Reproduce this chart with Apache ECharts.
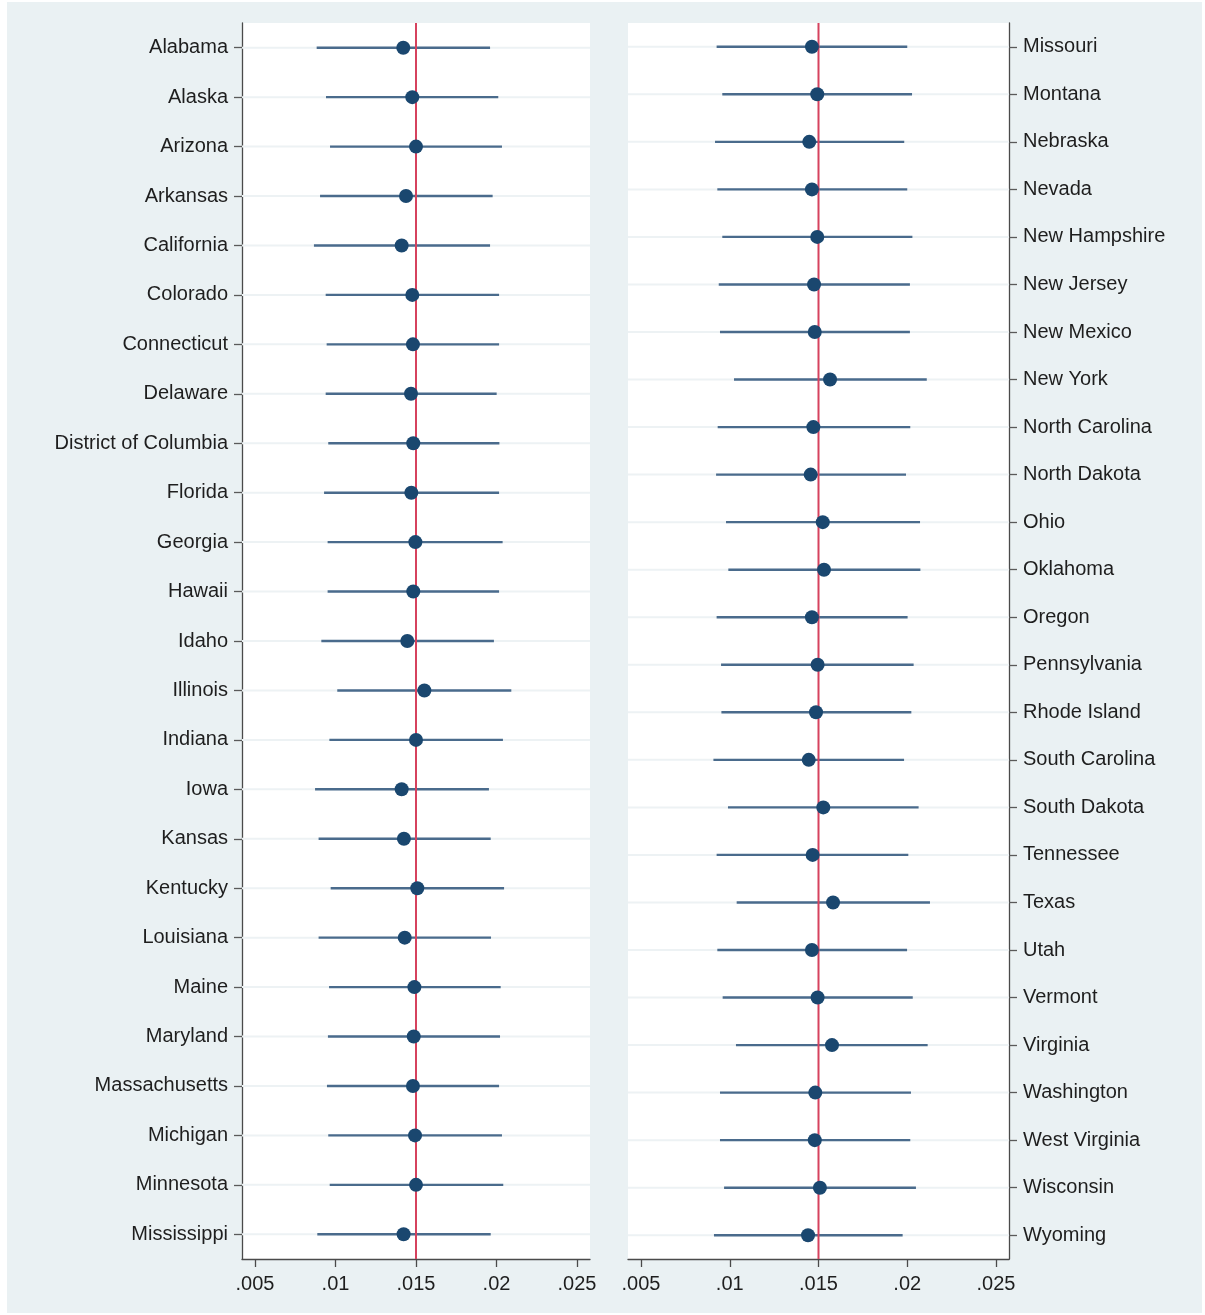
<!DOCTYPE html>
<html>
<head>
<meta charset="utf-8">
<title>State estimates with confidence intervals</title>
<script src="https://cdn.jsdelivr.net/npm/echarts@6/dist/echarts.min.js"></script>
<style>
  html, body { margin: 0; padding: 0; background: #ffffff; }
  #chart { width: 1205px; height: 1315px; }
</style>
</head>
<body>
<div id="chart"></div>
<script>
// Left panel: Alabama .. Mississippi
const leftStates = ['Alabama','Alaska','Arizona','Arkansas','California','Colorado','Connecticut','Delaware',
  'District of Columbia','Florida','Georgia','Hawaii','Idaho','Illinois','Indiana','Iowa','Kansas',
  'Kentucky','Louisiana','Maine','Maryland','Massachusetts','Michigan','Minnesota','Mississippi'];
const leftEst = [0.01421,0.01477,0.01500,0.01438,0.01411,0.01477,0.01481,0.01469,
  0.01483,0.01471,0.01496,0.01483,0.01446,0.01552,0.01500,0.01411,0.01425,
  0.01508,0.01430,0.01490,0.01486,0.01481,0.01494,0.01500,0.01423];
const leftLo = [0.00883,0.00941,0.00966,0.00904,0.00866,0.00939,0.00945,0.00939,
  0.00955,0.00929,0.00951,0.00951,0.00912,0.01011,0.00962,0.00873,0.00895,
  0.00970,0.00895,0.00960,0.00953,0.00947,0.00955,0.00964,0.00887];
const leftHi = [0.01960,0.02011,0.02034,0.01976,0.01960,0.02016,0.02016,0.02001,
  0.02018,0.02016,0.02038,0.02016,0.01984,0.02092,0.02040,0.01953,0.01964,
  0.02047,0.01966,0.02026,0.02022,0.02016,0.02034,0.02042,0.01964];

// Right panel: Missouri .. Wyoming
const rightStates = ['Missouri','Montana','Nebraska','Nevada','New Hampshire','New Jersey','New Mexico','New York',
  'North Carolina','North Dakota','Ohio','Oklahoma','Oregon','Pennsylvania','Rhode Island','South Carolina',
  'South Dakota','Tennessee','Texas','Utah','Vermont','Virginia','Washington','West Virginia','Wisconsin','Wyoming'];
const rightEst = [0.01463,0.01493,0.01448,0.01463,0.01493,0.01475,0.01479,0.01565,
  0.01471,0.01456,0.01524,0.01531,0.01463,0.01495,0.01486,0.01445,
  0.01527,0.01467,0.01582,0.01463,0.01495,0.01576,0.01482,0.01479,0.01508,0.01441];
const rightLo = [0.00926,0.00958,0.00917,0.00930,0.00958,0.00938,0.00945,0.01024,
  0.00932,0.00923,0.00979,0.00992,0.00926,0.00951,0.00953,0.00908,
  0.00990,0.00926,0.01039,0.00930,0.00960,0.01035,0.00945,0.00945,0.00968,0.00911];
const rightHi = [0.02000,0.02027,0.01983,0.02000,0.02029,0.02015,0.02015,0.02110,
  0.02017,0.01993,0.02072,0.02074,0.02002,0.02036,0.02023,0.01982,
  0.02064,0.02006,0.02128,0.01999,0.02031,0.02115,0.02021,0.02017,0.02049,0.01974];

// Axis ticks and reference value
const xTicks = [0.005, 0.01, 0.015, 0.02, 0.025];
const xTickLabels = ['.005', '.01', '.015', '.02', '.025'];
const refValue = 0.015;

const FONT = '"Liberation Sans", Arial, Helvetica, sans-serif';
const NAVY = '#1a476f';
const CI_COLOR = '#4a6b8c';
const GRID_COLOR = '#edf2f4';
const RED = '#d6425e';

function fmtTick(v) {
  const i = xTicks.findIndex(t => Math.abs(t - v) < 1e-9);
  return i >= 0 ? xTickLabels[i] : '';
}

function xAxisFor(gridIndex, min, max) {
  return {
    type: 'value', gridIndex, min, max,
    axisLine: { show: true, lineStyle: { color: '#4a4a4a', width: 1.3 } },
    axisTick: { show: true, customValues: xTicks, length: 8, lineStyle: { color: '#4a4a4a', width: 1.3 } },
    axisLabel: { customValues: xTicks, formatter: fmtTick, fontFamily: FONT, fontSize: 20, color: '#1e1e1e', margin: 15 },
    splitLine: { show: false }
  };
}

function yAxisFor(gridIndex, cats, position) {
  return {
    type: 'category', gridIndex, data: cats, inverse: true, position,
    boundaryGap: true,
    axisLine: { show: true, lineStyle: { color: '#4a4a4a', width: 1.3 } },
    axisTick: { show: true, alignWithLabel: true, length: 8, lineStyle: { color: '#5a5a5a', width: 1.3 } },
    axisLabel: { fontFamily: FONT, fontSize: 20, color: '#1e1e1e', margin: 14, padding: [3, 0, 0, 0] },
    splitLine: { show: false }
  };
}

// Faint row guide across the plot plus the interval segment
function renderInterval(params, api) {
  const lo = api.coord([api.value(0), api.value(2)]);
  const hi = api.coord([api.value(1), api.value(2)]);
  const cs = params.coordSys;
  return {
    type: 'group',
    children: [
      { type: 'line', shape: { x1: cs.x, y1: lo[1], x2: cs.x + cs.width, y2: lo[1] },
        style: { stroke: GRID_COLOR, lineWidth: 2 } },
      { type: 'line', shape: { x1: lo[0], y1: lo[1], x2: hi[0], y2: hi[1] },
        style: { stroke: CI_COLOR, lineWidth: 2.4 } }
    ]
  };
}

// Vertical reference line spanning the full plot height
function renderRef(params, api) {
  const x = api.coord([api.value(0), 0])[0];
  const cs = params.coordSys;
  return {
    type: 'line',
    shape: { x1: x, y1: cs.y, x2: x, y2: cs.y + cs.height },
    style: { stroke: RED, lineWidth: 2 }
  };
}

function panelSeries(idx, cats, est, lo, hi) {
  return [
    {
      type: 'custom', xAxisIndex: idx, yAxisIndex: idx,
      renderItem: renderInterval,
      encode: { x: [0, 1], y: 2 },
      data: cats.map((c, i) => [lo[i], hi[i], c]),
      silent: true, z: 2
    },
    {
      type: 'custom', xAxisIndex: idx, yAxisIndex: idx,
      renderItem: renderRef,
      encode: { x: 0, y: 1 },
      data: [[refValue, cats[0]]],
      silent: true, z: 3
    },
    {
      type: 'scatter', xAxisIndex: idx, yAxisIndex: idx,
      symbol: 'circle', symbolSize: 14,
      itemStyle: { color: NAVY, opacity: 1 },
      data: cats.map((c, i) => [est[i], c]),
      z: 4
    }
  ];
}

const chart = echarts.init(document.getElementById('chart'), null, { renderer: 'canvas' });
chart.setOption({
  animation: false,
  backgroundColor: '#ffffff',
  graphic: [{
    type: 'rect', left: 7, top: 2, z: -10,
    shape: { width: 1195, height: 1311 },
    style: { fill: '#eaf1f3' }
  }],
  grid: [
    { left: 242, top: 23, width: 348, height: 1236, show: true, backgroundColor: '#ffffff', borderWidth: 0 },
    { left: 628, top: 23, width: 381, height: 1236, show: true, backgroundColor: '#ffffff', borderWidth: 0 }
  ],
  xAxis: [
    xAxisFor(0, 0.005 - 13 / 16100, 0.005 - 13 / 16100 + 348 / 16100),
    xAxisFor(1, 0.005 - 13 / 17750, 0.005 - 13 / 17750 + 381 / 17750)
  ],
  yAxis: [
    yAxisFor(0, leftStates, 'left'),
    yAxisFor(1, rightStates, 'right')
  ],
  series: [
    ...panelSeries(0, leftStates, leftEst, leftLo, leftHi),
    ...panelSeries(1, rightStates, rightEst, rightLo, rightHi)
  ]
});
</script>
</body>
</html>
